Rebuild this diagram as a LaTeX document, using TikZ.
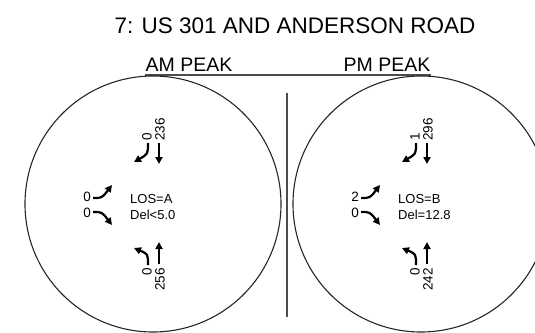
\documentclass[tikz,border=0pt]{standalone}
\usepackage{fontspec}
\setmainfont{Liberation Sans}
\usetikzlibrary{arrows.meta}
\tikzset{
    ring/.style={draw=black!85, line width=1.1pt},
    rule/.style={draw=black!70, line width=1.3pt},
    move/.style={draw=black, line width=2.2pt, -{Triangle[length=7pt, width=7pt]}},
    vol/.style={inner sep=0pt, font=\fontsize{13.5}{13.5}\selectfont},
    volup/.style={vol, rotate=90},
    delay/.style={inner sep=0pt, align=left, anchor=west, font=\fontsize{13}{16}\selectfont},
    heading/.style={inner sep=0pt, anchor=base, font=\fontsize{22.5}{22.5}\selectfont},
    period/.style={inner sep=0pt, anchor=base, font=\fontsize{19.5}{19.5}\selectfont}
}

\begin{document}
\begin{tikzpicture}[x=1pt, y=-1pt]
    \clip (0,0) rectangle (535,332);
    \useasboundingbox (0,0) rectangle (535,332);

    \node [heading] (title) at (295,33) {7: US 301 AND ANDERSON ROAD};
    \node [period] (am) at (189,71) {AM PEAK};
    \node [period] (pm) at (387,71) {PM PEAK};
    \draw [rule] (am.base west) ++(0,4) coordinate (ruleL) -- (ruleL -| pm.base east);
    \draw [rule] (287,93) coordinate (sepT) -- (287,317) coordinate (sepB);

    % one circle per peak hour
    \foreach \cx/\nm/\sbr/\sbt/\ebl/\ebr/\nbl/\nbt/\lostxt/\deltxt in
        {153/am/0/236/0/0/0/256/A/<5.0, 421/pm/1/296/2/0/0/242/B/=12.8} {
        \draw [ring] (\cx,204) circle (128);
        \begin{scope}[shift={(\cx,203)}]
            % southbound
            \draw [move] (6,-60) -- (6,-39);
            \draw [move] (-5,-60) .. controls (-5,-49) .. (-19,-41);
            \node [volup, anchor=west] (\nm-sbr) at (-6,-62) {\sbr};
            \node [volup, anchor=west] (\nm-sbt) at (7,-62) {\sbt};
            % eastbound
            \draw [move] (-60,-5) .. controls (-51,-5) .. (-41,-18);
            \draw [move] (-60,9) .. controls (-51,9) .. (-41,22);
            \node [vol, anchor=east] (\nm-ebl) at (-62,-6) {\ebl};
            \node [vol, anchor=east] (\nm-ebr) at (-62,10) {\ebr};
            % northbound
            \draw [move] (6,61) -- (6,39);
            \draw [move] (-5,62) .. controls (-5,51) .. (-19,45);
            \node [volup, anchor=east] (\nm-nbl) at (-6,65) {\nbl};
            \node [volup, anchor=east] (\nm-nbt) at (7,65) {\nbt};
            % level of service
            \node [delay] (\nm-los) at (-23,4) {LOS=\lostxt\\Del\deltxt};
        \end{scope}
    }
\end{tikzpicture}
\end{document}
